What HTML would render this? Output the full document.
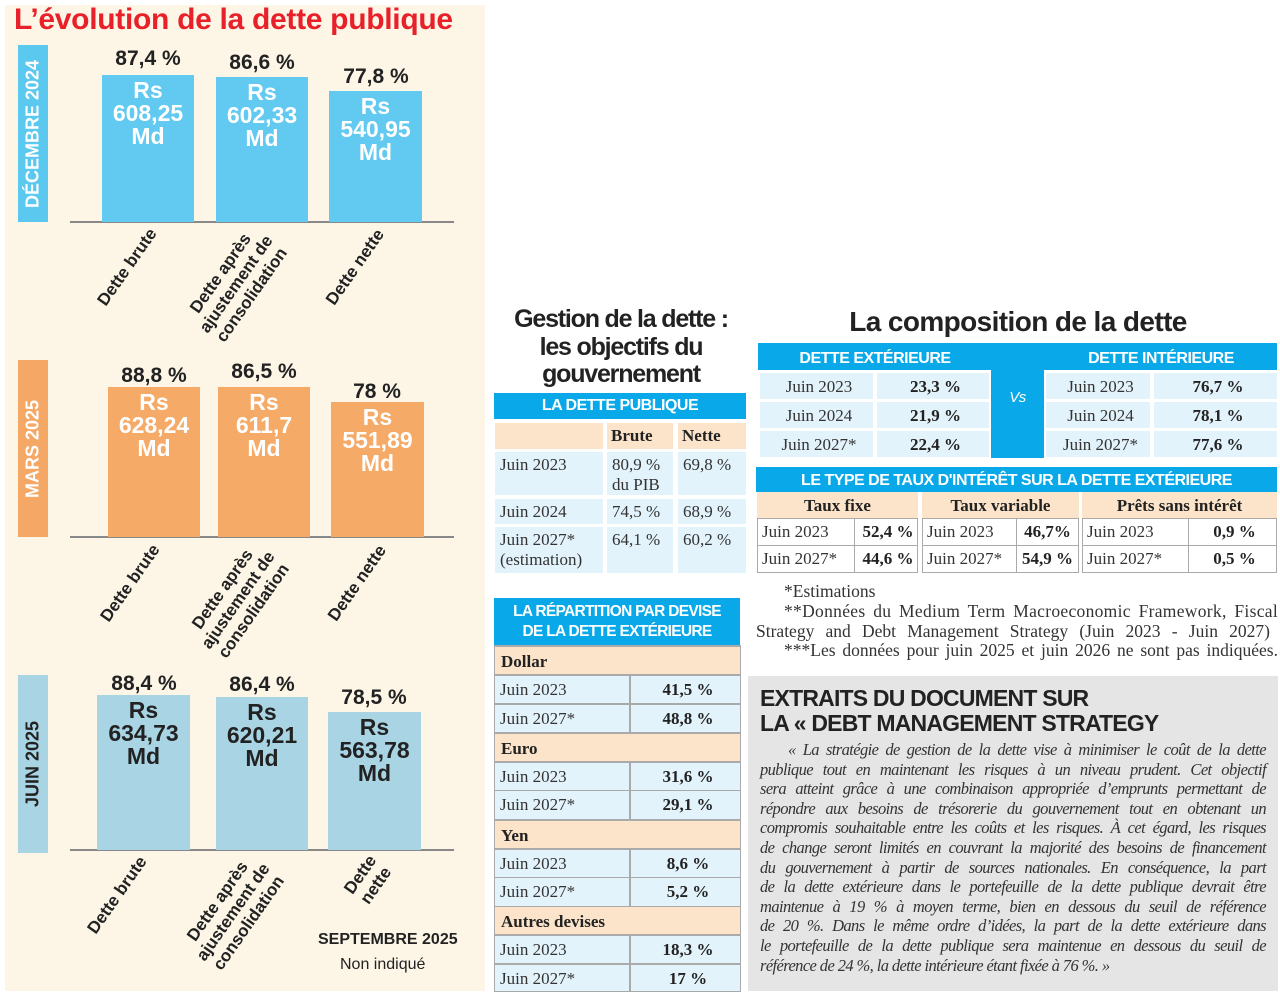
<!DOCTYPE html>
<html><head><meta charset="utf-8">
<style>
*{margin:0;padding:0;box-sizing:border-box}
body{width:1280px;height:993px;background:#fff;position:relative;overflow:hidden;font-family:"Liberation Sans",sans-serif}
.a{position:absolute}
.bar{position:absolute;color:#fff;font-weight:bold;font-size:23px;line-height:23px;text-align:center;padding-top:4px}
.pct{position:absolute;font-weight:bold;font-size:21px;color:#222;text-align:center;width:120px}
.side{position:absolute;width:30px;color:#fff;font-weight:bold;font-size:18px}
.side span{position:absolute;left:50%;top:50%;transform:translate(-50%,-50%) rotate(-90deg);white-space:nowrap}
.axis{position:absolute;height:2px;background:#888}
.lab{position:absolute;font-weight:bold;font-size:17px;line-height:19px;color:#222;text-align:center;white-space:nowrap;transform:translate(-50%,-50%) rotate(-55deg)}
.nar{font-weight:bold;white-space:nowrap}
.ser{font-family:"Liberation Serif",serif}
.bh{position:absolute;background:#09a9e9;color:#fff;text-align:center;font-weight:bold;font-size:16px;letter-spacing:-0.5px;white-space:nowrap}
.c{position:absolute;background:#e3f3fb;font-family:"Liberation Serif",serif;font-size:17px;color:#333;padding-left:5px;line-height:20px}
.k{position:absolute;background:#fbe4c9;font-family:"Liberation Serif",serif;font-weight:bold;font-size:17px;color:#222}
.w{position:absolute;background:#fff;border:1px solid #aaa;font-family:"Liberation Serif",serif;font-size:17px;color:#333;padding-left:4px;line-height:25px}
.b{font-weight:bold;color:#222}
.ex div{text-align:justify;text-align-last:justify;white-space:nowrap;height:19.6px}
.fn div{text-align:justify;text-align-last:justify;white-space:nowrap;height:19.8px}
</style></head><body>

<!-- LEFT PANEL -->
<div class="a" style="left:5px;top:5px;width:480px;height:986px;background:#fdf6e7"></div>
<div class="a" style="left:14px;top:3px;font-size:30px;font-weight:bold;color:#e8202a;letter-spacing:-0.3px;white-space:nowrap">L’évolution de la dette publique</div>

<!-- DEC 2024 -->
<div class="side" style="left:18px;top:45px;height:177px;background:#5bc8f0"><span>DÉCEMBRE 2024</span></div>
<div class="axis" style="left:70px;top:221px;width:384px"></div>
<div class="bar" style="left:102px;top:75px;width:92px;height:147px;background:#62c9f1">Rs<br>608,25<br>Md</div>
<div class="bar" style="left:216px;top:77px;width:92px;height:145px;background:#62c9f1">Rs<br>602,33<br>Md</div>
<div class="bar" style="left:329px;top:91px;width:93px;height:131px;background:#62c9f1">Rs<br>540,95<br>Md</div>
<div class="pct" style="left:88px;top:47px">87,4 %</div>
<div class="pct" style="left:202px;top:51px">86,6 %</div>
<div class="pct" style="left:316px;top:65px">77,8 %</div>
<div class="lab" style="left:127px;top:267px">Dette brute</div>
<div class="lab" style="left:236px;top:284px">Dette après<br>ajustement de<br>consolidation</div>
<div class="lab" style="left:355px;top:267px">Dette nette</div>

<!-- MARS 2025 -->
<div class="side" style="left:18px;top:360px;height:177px;background:#f5a865"><span>MARS 2025</span></div>
<div class="axis" style="left:70px;top:536px;width:384px"></div>
<div class="bar" style="left:108px;top:387px;width:92px;height:150px;background:#f5aa68">Rs<br>628,24<br>Md</div>
<div class="bar" style="left:218px;top:387px;width:92px;height:150px;background:#f5aa68">Rs<br>611,7<br>Md</div>
<div class="bar" style="left:331px;top:402px;width:93px;height:135px;background:#f5aa68">Rs<br>551,89<br>Md</div>
<div class="pct" style="left:94px;top:364px">88,8 %</div>
<div class="pct" style="left:204px;top:360px">86,5 %</div>
<div class="pct" style="left:317px;top:380px">78 %</div>
<div class="lab" style="left:130px;top:583px">Dette brute</div>
<div class="lab" style="left:238px;top:600px">Dette après<br>ajustement de<br>consolidation</div>
<div class="lab" style="left:357px;top:583px">Dette nette</div>

<!-- JUIN 2025 -->
<div class="side" style="left:18px;top:675px;height:178px;background:#a9d4e4"><span style="color:#222">JUIN 2025</span></div>
<div class="axis" style="left:70px;top:849px;width:384px"></div>
<div class="bar" style="left:97px;top:695px;width:93px;height:155px;background:#a9d4e4;color:#222">Rs<br>634,73<br>Md</div>
<div class="bar" style="left:216px;top:697px;width:92px;height:153px;background:#a9d4e4;color:#222">Rs<br>620,21<br>Md</div>
<div class="bar" style="left:328px;top:712px;width:93px;height:138px;background:#a9d4e4;color:#222">Rs<br>563,78<br>Md</div>
<div class="pct" style="left:84px;top:672px">88,4 %</div>
<div class="pct" style="left:202px;top:673px">86,4 %</div>
<div class="pct" style="left:314px;top:686px">78,5 %</div>
<div class="lab" style="left:117px;top:895px">Dette brute</div>
<div class="lab" style="left:233px;top:912px">Dette après<br>ajustement de<br>consolidation</div>
<div class="lab" style="left:368px;top:880px">Dette<br>nette</div>
<div class="a" style="left:318px;top:931px;font-size:16px;font-weight:bold;color:#222">SEPTEMBRE 2025</div>
<div class="a" style="left:340px;top:956px;font-size:16px;color:#222">Non indiqué</div>

<!-- GESTION -->
<div class="a nar" style="left:490px;top:306px;width:262px;text-align:center;font-size:25px;line-height:27.5px;color:#222;letter-spacing:-1.2px">Gestion de la dette :<br>les objectifs du<br>gouvernement</div>
<div class="bh" style="left:494px;top:393px;width:252px;height:26px;line-height:26px">LA DETTE PUBLIQUE</div>
<div class="k" style="left:495px;top:423px;width:108px;height:26px"></div>
<div class="k" style="left:607px;top:423px;width:66px;height:26px;line-height:26px;padding-left:4px">Brute</div>
<div class="k" style="left:678px;top:423px;width:68px;height:26px;line-height:26px;padding-left:4px">Nette</div>
<div class="c" style="left:495px;top:452px;width:108px;height:43px;padding-top:3px">Juin 2023</div>
<div class="c" style="left:607px;top:452px;width:66px;height:43px;padding-top:3px">80,9 %<br>du PIB</div>
<div class="c" style="left:678px;top:452px;width:68px;height:43px;padding-top:3px">69,8 %</div>
<div class="c" style="left:495px;top:499px;width:108px;height:25px;padding-top:3px">Juin 2024</div>
<div class="c" style="left:607px;top:499px;width:66px;height:25px;padding-top:3px">74,5 %</div>
<div class="c" style="left:678px;top:499px;width:68px;height:25px;padding-top:3px">68,9 %</div>
<div class="c" style="left:495px;top:527px;width:108px;height:46px;padding-top:3px">Juin 2027*<br>(estimation)</div>
<div class="c" style="left:607px;top:527px;width:66px;height:46px;padding-top:3px">64,1 %</div>
<div class="c" style="left:678px;top:527px;width:68px;height:46px;padding-top:3px">60,2 %</div>

<!-- REPARTITION -->
<div class="bh" style="left:494px;top:598px;width:246px;height:47px;line-height:20px;padding-top:4px;font-size:15.5px;letter-spacing:-0.7px">LA RÉPARTITION PAR DEVISE<br>DE LA DETTE EXTÉRIEURE</div>
<div class="a" style="left:494px;top:645px;width:247px;height:347px;background:#aaa"></div>
<div class="k" style="left:495px;top:647px;width:245px;height:27px;line-height:29px;padding-left:6px">Dollar</div>
<div class="c" style="left:495px;top:676px;width:134px;height:27px;line-height:28px">Juin 2023</div><div class="c b" style="left:631px;top:676px;width:109px;height:27px;line-height:28px;text-align:center">41,5 %</div>
<div class="c" style="left:495px;top:705px;width:134px;height:27px;line-height:28px">Juin 2027*</div><div class="c b" style="left:631px;top:705px;width:109px;height:27px;line-height:28px;text-align:center">48,8 %</div>
<div class="k" style="left:495px;top:734px;width:245px;height:27px;line-height:29px;padding-left:6px">Euro</div>
<div class="c" style="left:495px;top:763px;width:134px;height:27px;line-height:28px">Juin 2023</div><div class="c b" style="left:631px;top:763px;width:109px;height:27px;line-height:28px;text-align:center">31,6 %</div>
<div class="c" style="left:495px;top:791px;width:134px;height:28px;line-height:28px">Juin 2027*</div><div class="c b" style="left:631px;top:791px;width:109px;height:28px;line-height:28px;text-align:center">29,1 %</div>
<div class="k" style="left:495px;top:821px;width:245px;height:27px;line-height:29px;padding-left:6px">Yen</div>
<div class="c" style="left:495px;top:850px;width:134px;height:27px;line-height:28px">Juin 2023</div><div class="c b" style="left:631px;top:850px;width:109px;height:27px;line-height:28px;text-align:center">8,6 %</div>
<div class="c" style="left:495px;top:878px;width:134px;height:28px;line-height:28px">Juin 2027*</div><div class="c b" style="left:631px;top:878px;width:109px;height:28px;line-height:28px;text-align:center">5,2 %</div>
<div class="k" style="left:495px;top:907px;width:245px;height:27px;line-height:29px;padding-left:6px">Autres devises</div>
<div class="c" style="left:495px;top:936px;width:134px;height:27px;line-height:28px">Juin 2023</div><div class="c b" style="left:631px;top:936px;width:109px;height:27px;line-height:28px;text-align:center">18,3 %</div>
<div class="c" style="left:495px;top:965px;width:134px;height:26px;line-height:28px">Juin 2027*</div><div class="c b" style="left:631px;top:965px;width:109px;height:26px;line-height:28px;text-align:center">17 %</div>

<!-- COMPOSITION -->
<div class="a nar" style="left:758px;top:306px;width:520px;text-align:center;font-size:28px;color:#222;letter-spacing:-0.6px">La composition de la dette</div>
<div class="bh" style="left:758px;top:343px;width:519px;height:27px;line-height:29px"></div>
<div class="bh" style="left:760px;top:343px;width:230px;height:27px;line-height:31px;background:none">DETTE EXTÉRIEURE</div>
<div class="bh" style="left:1045px;top:343px;width:232px;height:27px;line-height:31px;background:none">DETTE INTÉRIEURE</div>
<div class="bh" style="left:991px;top:370px;width:53px;height:88px;line-height:56px;font-style:italic;font-weight:normal;font-size:15px">Vs</div>
<div class="c" style="left:760px;top:373px;width:113px;height:26px;line-height:28px;text-align:center">Juin 2023</div><div class="c b" style="left:877px;top:373px;width:112px;height:26px;line-height:28px;text-align:center">23,3 %</div>
<div class="c" style="left:760px;top:402px;width:113px;height:26px;line-height:28px;text-align:center">Juin 2024</div><div class="c b" style="left:877px;top:402px;width:112px;height:26px;line-height:28px;text-align:center">21,9 %</div>
<div class="c" style="left:760px;top:431px;width:113px;height:26px;line-height:28px;text-align:center">Juin 2027*</div><div class="c b" style="left:877px;top:431px;width:112px;height:26px;line-height:28px;text-align:center">22,4 %</div>
<div class="c" style="left:1046px;top:373px;width:104px;height:26px;line-height:28px;text-align:center">Juin 2023</div><div class="c b" style="left:1154px;top:373px;width:123px;height:26px;line-height:28px;text-align:center">76,7 %</div>
<div class="c" style="left:1046px;top:402px;width:104px;height:26px;line-height:28px;text-align:center">Juin 2024</div><div class="c b" style="left:1154px;top:402px;width:123px;height:26px;line-height:28px;text-align:center">78,1 %</div>
<div class="c" style="left:1046px;top:431px;width:104px;height:26px;line-height:28px;text-align:center">Juin 2027*</div><div class="c b" style="left:1154px;top:431px;width:123px;height:26px;line-height:28px;text-align:center">77,6 %</div>

<!-- TAUX -->
<div class="bh" style="left:756px;top:467px;width:521px;height:25px;line-height:28px">LE TYPE DE TAUX D'INTÉRÊT SUR LA DETTE EXTÉRIEURE</div>
<div class="k" style="left:757px;top:492px;width:161px;height:26px;line-height:28px;text-align:center">Taux fixe</div>
<div class="k" style="left:922px;top:492px;width:157px;height:26px;line-height:28px;text-align:center">Taux variable</div>
<div class="k" style="left:1082px;top:492px;width:195px;height:26px;line-height:28px;text-align:center">Prêts sans intérêt</div>
<div class="w" style="left:757px;top:518px;width:98px;height:28px">Juin 2023</div><div class="w b" style="left:854px;top:518px;width:64px;height:28px;text-align:center">52,4 %</div>
<div class="w" style="left:757px;top:545px;width:98px;height:28px">Juin 2027*</div><div class="w b" style="left:854px;top:545px;width:64px;height:28px;text-align:center">44,6 %</div>
<div class="w" style="left:922px;top:518px;width:95px;height:28px">Juin 2023</div><div class="w b" style="left:1016px;top:518px;width:63px;height:28px;text-align:center;padding-left:0">46,7%</div>
<div class="w" style="left:922px;top:545px;width:95px;height:28px">Juin 2027*</div><div class="w b" style="left:1016px;top:545px;width:63px;height:28px;text-align:center;padding-left:0">54,9 %</div>
<div class="w" style="left:1082px;top:518px;width:107px;height:28px">Juin 2023</div><div class="w b" style="left:1188px;top:518px;width:89px;height:28px;text-align:center">0,9 %</div>
<div class="w" style="left:1082px;top:545px;width:107px;height:28px">Juin 2027*</div><div class="w b" style="left:1188px;top:545px;width:89px;height:28px;text-align:center">0,5 %</div>

<!-- FOOTNOTES -->
<div class="a ser fn" style="left:756px;top:582px;width:522px;font-size:17.5px;line-height:19.8px;color:#333">
<div style="padding-left:28px;text-align-last:left">*Estimations</div>
<div style="padding-left:28px;letter-spacing:0.3px">**Données du Medium Term Macroeconomic Framework, Fiscal</div>
<div style="width:514px">Strategy and Debt Management Strategy (Juin 2023 - Juin 2027)</div>
<div style="padding-left:28px">***Les données pour juin 2025 et juin 2026 ne sont pas indiquées.</div>
</div>

<!-- EXTRAITS -->
<div class="a" style="left:748px;top:676px;width:530px;height:315px;background:#e5e5e5"></div>
<div class="a nar" style="left:760px;top:686px;font-size:23px;line-height:25px;color:#222;letter-spacing:-0.8px">EXTRAITS DU DOCUMENT SUR<br>LA « DEBT MANAGEMENT STRATEGY</div>
<div class="a ser ex" style="left:760px;top:740px;width:506px;font-style:italic;font-size:16.5px;line-height:19.6px;color:#333;letter-spacing:-0.6px">
<div style="padding-left:28px">« La stratégie de gestion de la dette vise à minimiser le coût de la dette</div>
<div>publique tout en maintenant les risques à un niveau prudent. Cet objectif</div>
<div>sera atteint grâce à une combinaison appropriée d’emprunts permettant de</div>
<div>répondre aux besoins de trésorerie du gouvernement tout en obtenant un</div>
<div>compromis souhaitable entre les coûts et les risques. À cet égard, les risques</div>
<div>de change seront limités en couvrant la majorité des besoins de financement</div>
<div>du gouvernement à partir de sources nationales. En conséquence, la part</div>
<div>de la dette extérieure dans le portefeuille de la dette publique devrait être</div>
<div>maintenue à 19 % à moyen terme, bien en dessous du seuil de référence</div>
<div>de 20 %. Dans le même ordre d’idées, la part de la dette extérieure dans</div>
<div>le portefeuille de la dette publique sera maintenue en dessous du seuil de</div>
<div style="text-align-last:left">référence de 24 %, la dette intérieure étant fixée à 76 %. »</div>
</div>

</body></html>
